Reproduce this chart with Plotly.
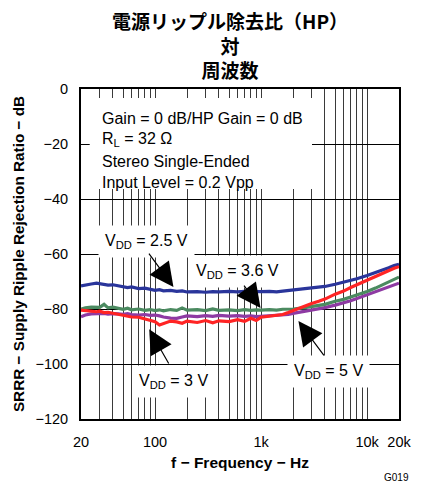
import math
import plotly.graph_objects as go

freq = [20, 22, 25, 28, 30, 33, 36, 40, 45, 50, 55, 60, 70, 80, 90, 100, 110, 120, 140, 160, 180,
        200, 250, 300, 350, 400, 500, 600, 700, 800, 900, 1000, 1200, 1400, 1600, 1800, 2000,
        2500, 3000, 3500, 4000, 5000, 6000, 7000, 8000, 10000, 12000, 14000, 16000, 18000, 20000]

vdd_2v5 = [-71.6, -71.2, -70.9, -70.6, -70.8, -71.0, -71.3, -71.2, -71.6, -72.0, -72.2, -72.0, -72.6,
           -72.4, -72.9, -73.2, -73.0, -73.4, -73.2, -73.6, -73.4, -73.8, -73.7, -73.9, -73.7, -73.8,
           -73.6, -73.8, -73.6, -73.7, -73.9, -73.7, -73.6, -73.8, -73.5, -73.3, -73.0, -72.8, -72.5,
           -72.2, -71.8, -71.0, -70.3, -69.6, -69.0, -67.8, -66.8, -65.8, -65.0, -64.2, -63.7]

vdd_3v = [-80.4, -80.6, -80.9, -81.0, -80.8, -81.3, -81.2, -81.6, -82.0, -82.2, -82.6, -82.9, -83.0,
          -83.6, -84.2, -84.6, -85.8, -85.2, -84.4, -84.7, -85.2, -84.4, -84.9, -84.2, -85.0, -84.3,
          -84.6, -83.9, -84.5, -83.4, -84.2, -83.0, -82.6, -82.4, -82.0, -81.3, -80.6, -79.3, -78.0,
          -77.2, -76.4, -74.6, -73.5, -72.2, -71.2, -69.5, -68.0, -66.9, -66.0, -65.2, -64.6]

vdd_3v6 = [-80.1, -79.6, -79.3, -79.2, -79.4, -78.3, -79.6, -79.3, -79.8, -80.1, -79.7, -80.3, -80.0,
           -80.5, -80.2, -80.6, -80.3, -80.7, -80.2, -80.5, -79.6, -80.4, -80.2, -80.6, -80.0, -80.5,
           -80.3, -80.6, -80.2, -80.5, -80.3, -80.4, -80.2, -80.4, -80.1, -80.2, -80.0, -79.6, -79.0,
           -78.7, -78.3, -77.2, -76.5, -75.6, -74.9, -73.6, -72.4, -71.2, -70.2, -69.2, -68.4]

vdd_5v = [-82.8, -82.2, -81.8, -81.6, -81.5, -81.6, -81.9, -81.7, -81.8, -81.9, -81.7, -82.0, -82.2,
          -82.0, -82.3, -82.2, -82.5, -82.9, -83.3, -83.4, -82.9, -82.5, -82.8, -82.4, -82.7, -82.3,
          -82.6, -82.4, -82.7, -82.5, -82.8, -82.7, -82.5, -82.4, -82.2, -82.0, -81.6, -81.0, -80.4,
          -80.0, -79.5, -78.6, -77.8, -77.0, -76.2, -74.8, -73.6, -72.6, -71.8, -71.2, -70.6]

x_grid = [20, 30, 40, 50, 60, 70, 80, 90, 100, 200, 300, 400, 500, 600, 700, 800, 900,
          1000, 2000, 3000, 4000, 5000, 6000, 7000, 8000, 9000, 10000, 20000]
x_labels = {20: "20", 100: "100", 1000: "1k", 10000: "10k", 20000: "20k"}
y_ticks = [-120, -100, -80, -60, -40, -20, 0]
y_labels = ["\u2212120", "\u2212100", "\u221280", "\u221260", "\u221240", "\u221220", "0"]

series = [
    ("VDD = 5 V", vdd_5v, "#8e3aa3"),
    ("VDD = 3.6 V", vdd_3v6, "#4b8a60"),
    ("VDD = 2.5 V", vdd_2v5, "#2a359b"),
    ("VDD = 3 V", vdd_3v, "#ff2424"),
]

FONT = "Liberation Sans, Arial, sans-serif"
L, T, W, H = 81, 89, 329, 330


def px_x(px):
    return (px - L) / W


def px_y(py):
    return (T + H - py) / H


fig = go.Figure()
for name, vals, col in series:
    fig.add_trace(go.Scatter(x=freq, y=vals, mode="lines", name=name,
                             line=dict(color=col, width=3.2), showlegend=False))

fig.update_layout(
    width=423, height=483,
    margin=dict(l=L, r=423 - L - W, t=T, b=483 - T - H),
    plot_bgcolor="white", paper_bgcolor="white",
    font=dict(family=FONT, size=14, color="black"),
)

fig.update_xaxes(
    type="log", range=[math.log10(20), math.log10(20000)],
    tickmode="array", tickvals=x_grid,
    ticktext=[x_labels.get(v, "") for v in x_grid],
    showgrid=True, gridcolor="#3a3a3a", gridwidth=1,
    showline=True, linecolor="black", linewidth=2, mirror=True,
    ticks="", ticklabelstandoff=9,
    tickfont=dict(size=14.5),
    title=dict(text="<b>f \u2212 Frequency \u2212 Hz</b>", font=dict(size=15.5), standoff=8),
    zeroline=False,
)
fig.update_yaxes(
    range=[-120, 0], tickmode="array", tickvals=y_ticks, ticktext=y_labels,
    showgrid=True, gridcolor="black", gridwidth=1,
    showline=True, linecolor="black", linewidth=2, mirror=True,
    ticks="", ticklabelstandoff=8,
    tickfont=dict(size=14.5),
    title=dict(text="<b>SRRR \u2212 Supply Ripple Rejection Ratio \u2212 dB</b>",
               font=dict(size=15.3), standoff=7),
    zeroline=False,
)

# Title as annotation (three lines)
fig.add_annotation(text="<b>電源リップル除去比（HP）<br>対<br>周波数</b>",
                   xref="paper", yref="paper", x=px_x(235), y=px_y(5),
                   xanchor="center", yanchor="top", showarrow=False,
                   font=dict(family="Noto Sans CJK JP", size=19, color="black"))

# White info box
fig.add_shape(type="rect", xref="paper", yref="paper",
              x0=px_x(90), x1=px_x(320), y0=px_y(189), y1=px_y(98),
              fillcolor="white", line=dict(width=0), layer="above")

info_lines = ["Gain = 0 dB/HP Gain = 0 dB", "R<sub>L</sub> = 32 \u03a9",
              "Stereo Single-Ended", "Input Level = 0.2 Vpp"]
info_y = [118, 139, 161, 182]
for t, py in zip(info_lines, info_y):
    fig.add_annotation(text=t, xref="paper", yref="paper",
                       x=px_x(101), y=px_y(py),
                       xanchor="left", yanchor="middle", showarrow=False,
                       font=dict(size=16))

# Curve labels (text boxes)
labels = [
    ("V<sub>DD</sub> = 2.5 V", 149, 241),
    ("V<sub>DD</sub> = 3.6 V", 243, 271),
    ("V<sub>DD</sub> = 3 V", 177, 381),
    ("V<sub>DD</sub> = 5 V", 337, 371),
]
for t, px, py in labels:
    fig.add_annotation(text=t, xref="paper", yref="paper",
                       x=px_x(px), y=px_y(py),
                       xanchor="center", yanchor="middle", showarrow=False,
                       bgcolor="white", borderpad=6, font=dict(size=16))

# Arrows (tip: frequency & dB, tail offset in px); log axis needs log10 x
arrows = [
    (149, -72.0, -25, -34),
    (988, -79.6, -17, -23),
    (88, -87.4, 20, 35),
    (2250, -84.4, 26, 35),
]
for fx, fy, ax, ay in arrows:
    fig.add_annotation(x=math.log10(fx), y=fy, xref="x", yref="y", text=" ",
                       font=dict(size=1), borderpad=0,
                       showarrow=True, arrowhead=2, arrowsize=4, arrowwidth=1.2,
                       arrowcolor="black", ax=ax, ay=ay)

fig.add_annotation(text="G019", xref="paper", yref="paper", x=px_x(422),
                   y=px_y(477), xanchor="right", yanchor="middle",
                   showarrow=False, font=dict(size=10))

fig.write_html("out.html")
